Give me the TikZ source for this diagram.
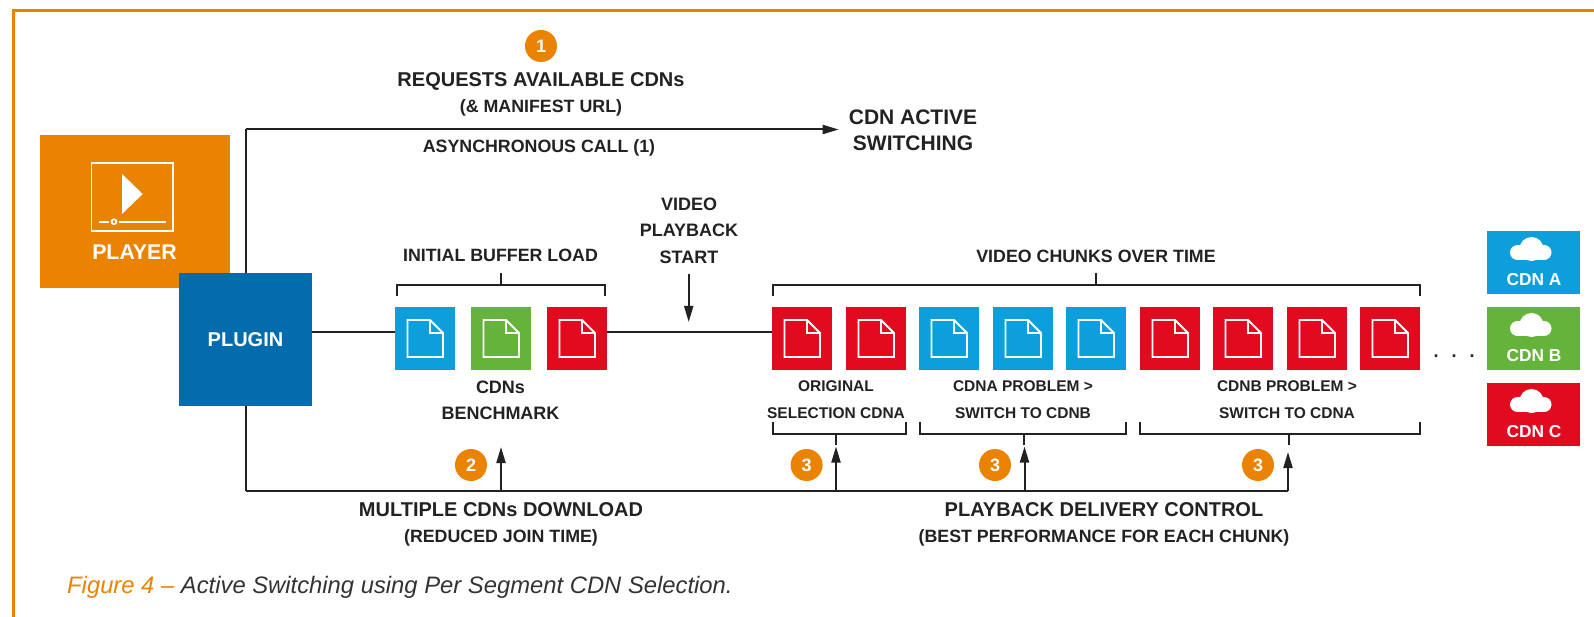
\documentclass[tikz,border=0pt]{standalone}
\usepackage{fontspec}
\setmainfont{Liberation Sans}
\usetikzlibrary{arrows.meta}
\definecolor{orangeC}{HTML}{EA8202}
\definecolor{plugC}{HTML}{036CAD}
\definecolor{blueC}{HTML}{0C9FDC}
\definecolor{greenC}{HTML}{65B33A}
\definecolor{redC}{HTML}{E20A1E}
\definecolor{txtC}{HTML}{222222}
\definecolor{capC}{HTML}{333333}
\tikzset{
  x=1pt,y=-1pt,
  wire/.style={draw=txtC,line width=2pt},
  arrowwire/.style={wire,-{Triangle[length=16pt,width=9pt]}},
  chunk/.style={fill=#1,draw=none,minimum width=60pt,minimum height=63pt,inner sep=0pt,outer sep=0pt,anchor=north west},
  cdnbox/.style={fill=#1,draw=none,minimum width=93pt,minimum height=63pt,inner sep=0pt,outer sep=0pt,anchor=north west},
  badge/.style={circle,fill=orangeC,text=white,font=\bfseries\fontsize{18}{18}\selectfont,minimum size=32pt,inner sep=0pt},
  big/.style={text=txtC,font=\bfseries\fontsize{20}{20}\selectfont,inner sep=0pt,align=center},
  mid/.style={text=txtC,font=\bfseries\fontsize{17.8}{17.8}\selectfont,inner sep=0pt,align=center},
  wtext/.style={text=white,font=\bfseries\fontsize{#1}{#1}\selectfont,inner sep=0pt},
  iconline/.style={draw=white,line width=1.8pt,line join=miter},
}
\newcommand{\docicon}[1]{%
  \draw[iconline] ([shift={(12.5,13)}]#1.north west) -- ++(22.5,0) -- ++(13,13) -- ++(0,24) -- ++(-35.5,0) -- cycle;
  \draw[iconline] ([shift={(35,13)}]#1.north west) -- ++(0,13) -- ++(13,0);
}
\newcommand{\cloudicon}[1]{%
  \fill[white] ([shift={(30.5,21.5)}]#1.north west) circle[radius=7.5];
  \fill[white] ([shift={(57,21.5)}]#1.north west) circle[radius=7.5];
  \fill[white] ([shift={(44.5,18)}]#1.north west) circle[radius=12];
  \fill[white] ([shift={(30.5,14)}]#1.north west) rectangle ([shift={(57,29)}]#1.north west);
  \fill[#1box] ([shift={(23,6)}]#1.north west) rectangle ([shift={(33,14)}]#1.north west);
  \fill[#1box] ([shift={(56,6)}]#1.north west) rectangle ([shift={(66,14)}]#1.north west);
}
\colorlet{cabox}{blueC}
\colorlet{cbbox}{greenC}
\colorlet{ccbox}{redC}
\begin{document}
\begin{tikzpicture}
\useasboundingbox (0,0) rectangle (1594,617);
\fill[white] (0,0) rectangle (1594,617);
% frame
\coordinate (frameA) at (13.5,617);
\coordinate (frameB) at (13.5,10.3);
\coordinate (frameC) at (1594,10.3);
\draw[orangeC,line width=2.5pt] (frameA) -- (frameB) -- (frameC);

% connector ends
\coordinate (topCorner) at (245.5,129.5);
\coordinate (activeEnd) at (838.7,129.5);
\coordinate (botCorner) at (245.5,491);
\coordinate (botEnd) at (1288,491);
\coordinate (a2) at (501,491);
\coordinate (a2t) at (501,447);
\coordinate (a3a) at (836,491);
\coordinate (a3at) at (836,446.5);
\coordinate (a3b) at (1024.5,491);
\coordinate (a3bt) at (1024.5,446.5);
\coordinate (a3ct) at (1288,452);

% player
\node[fill=orangeC,minimum width=190pt,minimum height=153pt,inner sep=0pt,outer sep=0pt,anchor=north west] (player) at (40,135) {};
\draw[iconline] (91.5,163) rectangle (173,231);
\fill[white] (122,174) -- (142.7,194) -- (122,214) -- cycle;
\draw[white,line width=2pt] (99,221.7) -- (109,221.7);
\draw[white,line width=2pt] (119.4,221.7) -- (166,221.7);
\draw[white,line width=1.8pt] (114,221.7) circle[radius=2.4];
\node[wtext=21.3] (playerlabel) at (134.5,252) {PLAYER};

% connectors
\draw[wire] (topCorner) -- (245.5,280);
\draw[arrowwire] (245.5,129.5) -- (activeEnd);
\draw[wire] (botCorner) -- (245.5,400);
\draw[wire] (botCorner) -- (botEnd);
\draw[arrowwire] (botEnd) -- (a3ct);
\draw[arrowwire] (a2) -- (a2t);
\draw[arrowwire] (a3a) -- (a3at);
\draw[arrowwire] (a3b) -- (a3bt);

% plugin
\node[fill=plugC,minimum width=133pt,minimum height=133pt,inner sep=0pt,outer sep=0pt,anchor=north west] (plugin) at (179,273) {};
\node[wtext=20] (pluginlabel) at (245.5,340) {PLUGIN};

% initial squares
\node[chunk=blueC] (i1) at (395,307) {};
\node[chunk=greenC] (i2) at (471,307) {};
\node[chunk=redC] (i3) at (547,307) {};
% chunks
\node[chunk=redC] (c1) at (772,307) {};
\node[chunk=redC] (c2) at (846,307) {};
\node[chunk=blueC] (c3) at (919,307) {};
\node[chunk=blueC] (c4) at (993,307) {};
\node[chunk=blueC] (c5) at (1066,307) {};
\node[chunk=redC] (c6) at (1140,307) {};
\node[chunk=redC] (c7) at (1213,307) {};
\node[chunk=redC] (c8) at (1287,307) {};
\node[chunk=redC] (c9) at (1360,307) {};
\foreach \n in {i1,i2,i3,c1,c2,c3,c4,c5,c6,c7,c8,c9}{\docicon{\n}}

% horizontal timeline
\coordinate (pl) at (312,331.5);
\coordinate (i1l) at (395,331.5);
\coordinate (i3r) at (607,331.5);
\coordinate (c1l) at (772,331.5);
\draw[wire] (pl) -- (i1l);
\draw[wire] (i3r) -- (c1l);
\coordinate (vpTop) at (688.7,274);
\coordinate (vpTip) at (688.7,322);
\draw[arrowwire] (vpTop) -- (vpTip);

% upper brackets
\coordinate (b1a) at (396.5,296); \coordinate (b1b) at (605,296);
\draw[wire] (b1a) -- (396.5,285) -- (605,285) -- (b1b);
\coordinate (b1t) at (501,273); \draw[wire] (b1t) -- (501,285);
\coordinate (b2a) at (772.5,296); \coordinate (b2b) at (1420,296);
\draw[wire] (b2a) -- (772.5,285) -- (1420,285) -- (b2b);
\coordinate (b2t) at (1096,273); \draw[wire] (b2t) -- (1096,285);

% lower brackets
\coordinate (l1a) at (772.5,422); \coordinate (l1b) at (905.5,422);
\draw[wire] (l1a) -- (772.5,433.5) -- (905.5,433.5) -- (l1b);
\coordinate (l1t) at (835.7,445); \draw[wire] (835.7,433.5) -- (l1t);
\coordinate (l2a) at (919.5,422); \coordinate (l2b) at (1126,422);
\draw[wire] (l2a) -- (919.5,433.5) -- (1126,433.5) -- (l2b);
\coordinate (l2t) at (1024,445); \draw[wire] (1024,433.5) -- (l2t);
\coordinate (l3a) at (1140,422); \coordinate (l3b) at (1420,422);
\draw[wire] (l3a) -- (1140,433.5) -- (1420,433.5) -- (l3b);
\coordinate (l3t) at (1288.5,445); \draw[wire] (1288.5,433.5) -- (l3t);

% badges
\node[badge] (n1) at (541,46) {1};
\node[badge] (n2) at (471,465) {2};
\node[badge] (n3a) at (806.6,465) {3};
\node[badge] (n3b) at (995,465) {3};
\node[badge] (n3c) at (1258,465) {3};

% labels
\node[big] (t1) at (541,81) {REQUESTS AVAILABLE CDNs};
\node[mid] (t2) at (541,108) {(\& MANIFEST URL)};
\node[mid] (t3) at (539,148) {ASYNCHRONOUS CALL (1)};
\node[big,font=\bfseries\fontsize{21}{26}\selectfont] (t4) at (913,130) {CDN ACTIVE\\SWITCHING};
\node[mid,font=\bfseries\fontsize{18}{26.5}\selectfont] (t5) at (689,230.5) {VIDEO\\PLAYBACK\\START};
\node[mid] (t6) at (500.5,255) {INITIAL BUFFER LOAD};
\node[mid] (t7) at (1096,256) {VIDEO CHUNKS OVER TIME};
\node[mid,font=\bfseries\fontsize{18}{26}\selectfont] (t8) at (500.5,400) {CDNs\\BENCHMARK};
\node[mid,font=\bfseries\fontsize{15.5}{27}\selectfont] (t9) at (836,400) {ORIGINAL\\SELECTION CDNA};
\node[mid,font=\bfseries\fontsize{15.5}{27}\selectfont] (t10) at (1023,400) {CDNA PROBLEM >\\SWITCH TO CDNB};
\node[mid,font=\bfseries\fontsize{15.5}{27}\selectfont] (t11) at (1287,400) {CDNB PROBLEM >\\SWITCH TO CDNA};
\node[big] (t12) at (501,510) {MULTIPLE CDNs DOWNLOAD};
\node[mid] (t13) at (501,538) {(REDUCED JOIN TIME)};
\node[big] (t14) at (1104,510) {PLAYBACK DELIVERY CONTROL};
\node[mid] (t15) at (1104,538) {(BEST PERFORMANCE FOR EACH CHUNK)};
\node[inner sep=0pt,anchor=west,font=\itshape\fontsize{23.8}{23.8}\selectfont] (cap) at (67,587.5) {\textcolor{orangeC}{Figure 4 –} \textcolor{capC}{Active Switching using Per Segment CDN Selection.}};

% dots
\node[inner sep=0pt,text=txtC,font=\bfseries\fontsize{18}{18}\selectfont] (dots) at (1454,356) {.\hspace{13pt}.\hspace{13pt}.};

% CDN boxes
\node[cdnbox=blueC] (ca) at (1487,231) {};
\node[cdnbox=greenC] (cb) at (1487,307) {};
\node[cdnbox=redC] (cc) at (1487,383) {};
\foreach \n in {ca,cb,cc}{\cloudicon{\n}}
\node[wtext=17.3] (cal) at (1534,280) {CDN A};
\node[wtext=17.3] (cbl) at (1534,356) {CDN B};
\node[wtext=17.3] (ccl) at (1534,432) {CDN C};
\end{tikzpicture}
\end{document}
